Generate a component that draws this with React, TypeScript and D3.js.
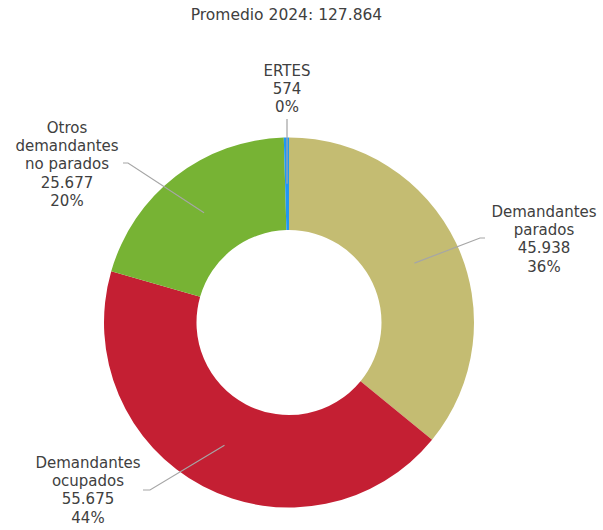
import React from "react";
import * as d3 from "d3";

const categories = ["Demandantes parados", "Demandantes ocupados", "Otros demandantes no parados", "ERTES"];
const labelLines = [["Demandantes", "parados"], ["Demandantes", "ocupados"], ["Otros", "demandantes", "no parados"], ["ERTES"]];
const values = [45938, 55675, 25677, 574];
const colors = ["#C4BC72", "#C41F33", "#77B334", "#2196F3"];
const titlePrefix = "Promedio 2024: ";

const W = 603;
const H = 530;
const cx = 289;
const cy = 322.5;
const R = 185;
const r = 92.5;

// label layout: text center x, first line center y, leader start point, elbow
const labelLayout = [
  { tx: 544, ty: 212, lead: [[485, 238], [480, 238]] },
  { tx: 88, ty: 463, lead: [[143, 490], [150, 490]] },
  { tx: 67, ty: 128, lead: [[123, 163], [128, 163]] },
  { tx: 287, ty: 71, lead: [[287, 119]] },
];

const loc = d3.formatLocale({ decimal: ",", thousands: ".", grouping: [3], currency: ["", "€"] });
const fmt = loc.format(",d");

export default function App() {
  const total = d3.sum(values);
  const pie = d3.pie<number>().sort(null).value((d) => d)(values);
  const arc = d3.arc<d3.PieArcDatum<number>>().innerRadius(r).outerRadius(R);
  const font = "'DejaVu Sans', sans-serif";
  const lineH = 18.2;
  return (
    <svg width={W} height={H} style={{ position: "absolute", left: 0, top: 0, background: "#fff" }}>
      <text x={286.5} y={15} fontFamily={font} fontSize={15.5} fill="#404040" textAnchor="middle" dominantBaseline="central">
        {titlePrefix + fmt(total)}
      </text>
      <g transform={`translate(${cx},${cy})`}>
        {pie.map((p, i) => (
          <path key={i} d={arc(p) || ""} fill={colors[i]} />
        ))}
      </g>
      {pie.map((p, i) => {
        const [ax, ay] = arc.centroid(p);
        const L = labelLayout[i];
        const pts = [...L.lead, [cx + ax, cy + ay]];
        const lines = [...labelLines[i], fmt(values[i]), Math.round((values[i] / total) * 100) + "%"];
        return (
          <g key={"l" + i}>
            <polyline points={pts.map((q) => q.join(",")).join(" ")} fill="none" stroke="#A6A6A6" strokeWidth={1.2} />
            {lines.map((t, j) => (
              <text key={j} x={L.tx} y={L.ty + j * lineH} fontFamily={font} fontSize={15} fill="#404040" textAnchor="middle" dominantBaseline="central">
                {t}
              </text>
            ))}
          </g>
        );
      })}
    </svg>
  );
}
